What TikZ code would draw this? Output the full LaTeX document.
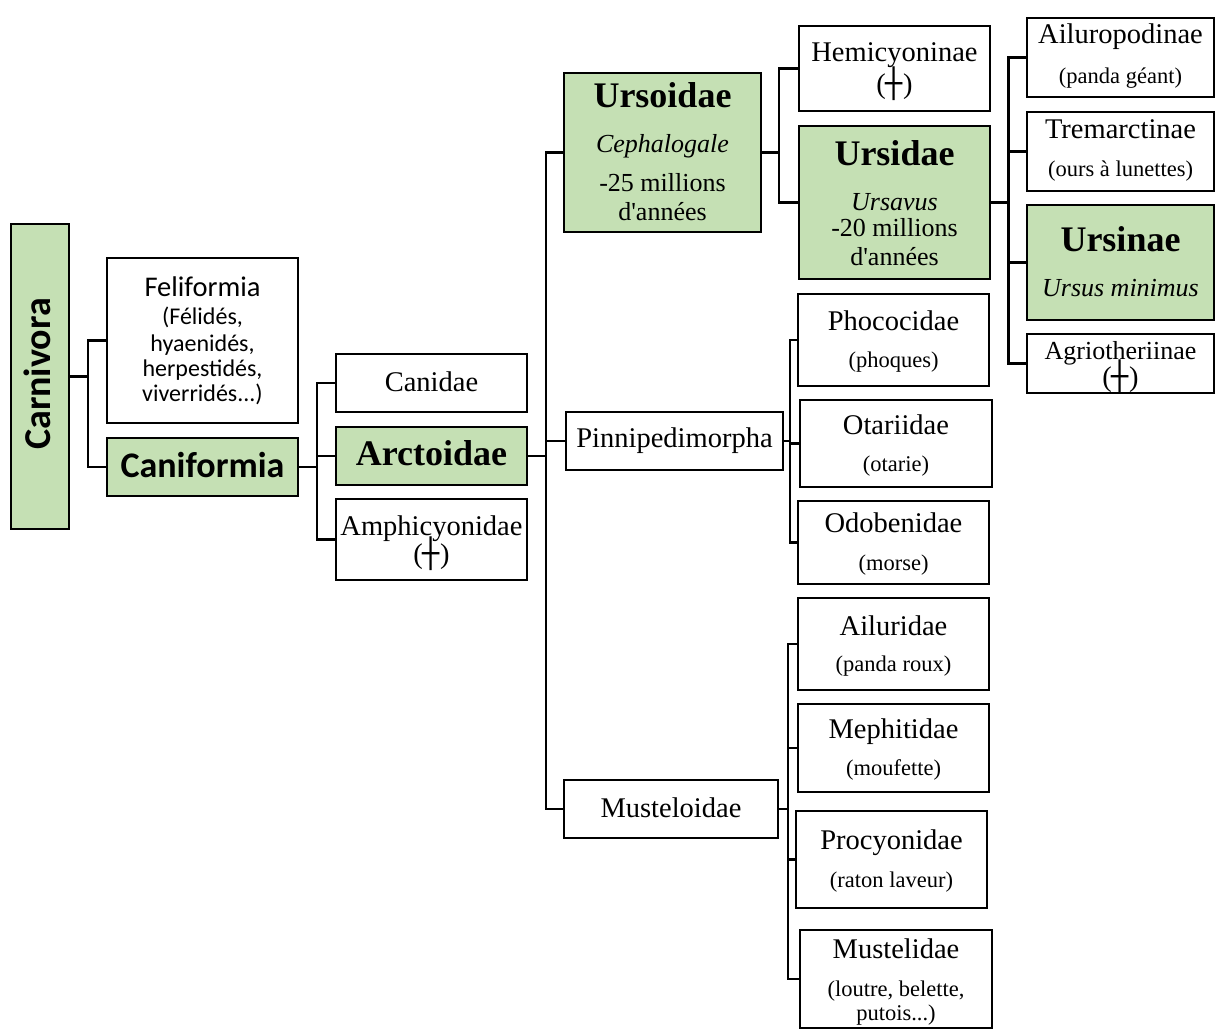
\documentclass[tikz,border=0pt]{standalone}
\usepackage{fontspec}
\setmainfont{Liberation Serif}
\newfontfamily\serraw{Liberation Serif}
\newfontfamily\carl{Carlito}
\newfontfamily\djv{DejaVu Sans}
\definecolor{grn}{HTML}{C5E0B4}
\newcommand\szname{\fontsize{28.5}{30}\selectfont}
\newcommand\szsub{\fontsize{22.5}{24}\selectfont}
\newcommand\szbig{\fontsize{36}{38}\selectfont\bfseries}
\newcommand\szit{\fontsize{26}{28}\selectfont}
\newcommand\extinct{(\hbox{\djv ┼})}
\begin{document}
\begin{tikzpicture}[x=1pt,y=-1pt,
  box/.style={draw=black, line width=2.8pt, inner sep=0pt, outer sep=0pt},
  gbox/.style={box, fill=grn},
  lnk/.style={draw=black, line width=2.5pt},
  t/.style={anchor=base, inner sep=0pt, outer sep=0pt}]
\useasboundingbox (0,0) rectangle (1216,1030);
% ---------- boxes ----------
\node[gbox, minimum width=58pt,  minimum height=305pt] (carn)  at (40,376.5) {};
\node[box,  minimum width=191pt, minimum height=165pt] (feli)  at (202.5,340.5) {};
\node[gbox, minimum width=191pt, minimum height=58pt]  (cani)  at (202.5,467) {};
\node[box,  minimum width=191pt, minimum height=58pt]  (canid) at (431.5,383) {};
\node[gbox, minimum width=191pt, minimum height=58pt]  (arct)  at (431.5,456) {};
\node[box,  minimum width=191pt, minimum height=81pt]  (amph)  at (431.5,539.5) {};
\node[gbox, minimum width=197pt, minimum height=159pt] (urso)  at (662.5,152.5) {};
\node[box,  minimum width=217pt, minimum height=58pt]  (pinn)  at (674.5,441) {};
\node[box,  minimum width=214pt, minimum height=58pt]  (must)  at (671,809) {};
\node[box,  minimum width=191pt, minimum height=85pt]  (hemi)  at (894.5,68.5) {};
\node[gbox, minimum width=191pt, minimum height=153pt] (ursid) at (894.5,202.5) {};
\node[box,  minimum width=191pt, minimum height=92pt]  (phoc)  at (893.5,340) {};
\node[box,  minimum width=192pt, minimum height=87pt]  (otar)  at (896,443.5) {};
\node[box,  minimum width=191pt, minimum height=83pt]  (odob)  at (893.5,542.5) {};
\node[box,  minimum width=191pt, minimum height=92pt]  (ailu)  at (893.5,644) {};
\node[box,  minimum width=191pt, minimum height=88pt]  (meph)  at (893.5,748) {};
\node[box,  minimum width=191pt, minimum height=97pt]  (proc)  at (891.5,859.5) {};
\node[box,  minimum width=192pt, minimum height=98pt]  (muste) at (896,979) {};
\node[box,  minimum width=187pt, minimum height=79pt]  (ailp)  at (1120.5,57.5) {};
\node[box,  minimum width=187pt, minimum height=79pt]  (trem)  at (1120.5,151.5) {};
\node[gbox, minimum width=187pt, minimum height=115pt] (ursin) at (1120.5,262.5) {};
\node[box,  minimum width=187pt, minimum height=59pt]  (agrio) at (1120.5,363.5) {};
% ---------- texts ----------
\node[t, rotate=90] (carn-t) at (50,374) {\carl\fontsize{38}{40}\selectfont\bfseries Carnivora};
\node[t] (feli-t1) at (202.5,296) {\carl\fontsize{28.5}{30}\selectfont Feliformia};
\node[t] (feli-t2) at (202.5,324) {\carl\fontsize{24}{26}\selectfont (Félidés,};
\node[t] (feli-t3) at (202.5,351.7) {\carl\fontsize{24}{26}\selectfont hyaenidés,};
\node[t] (feli-t4) at (202.5,376.7) {\carl\fontsize{24}{26}\selectfont herpestidés,};
\node[t] (feli-t5) at (202.5,401.7) {\carl\fontsize{24}{26}\selectfont viverridés...)};
\node[t] (cani-t) at (202.5,477) {\carl\fontsize{36}{38}\selectfont\bfseries Caniformia};
\node[t] (canid-t) at (431.5,391.7) {\szname Canidae};
\node[t] (arct-t) at (431.5,465.5) {\szbig Arctoidae};
\node[t] (amph-t1) at (431.5,535) {\szname Amphicyonidae};
\node[t] (amph-t2) at (431.5,563.3) {\szname\extinct};
\node[t] (urso-t1) at (662.5,107.7) {\szbig Ursoidae};
\node[t] (urso-t2) at (662.5,153) {\szit\itshape Cephalogale};
\node[t] (urso-t3) at (662.5,191.7) {\szit -25 millions};
\node[t] (urso-t4) at (662.5,220) {\serraw\szit d'années};
\node[t] (pinn-t) at (674.5,447.3) {\szname Pinnipedimorpha};
\node[t] (must-t) at (671,817.7) {\szname Musteloidae};
\node[t] (hemi-t1) at (894.5,61.7) {\szname Hemicyoninae};
\node[t] (hemi-t2) at (894.5,94) {\szname\extinct};
\node[t] (ursid-t1) at (894.5,165) {\szbig Ursidae};
\node[t] (ursid-t2) at (894.5,210) {\szit\itshape Ursavus};
\node[t] (ursid-t3) at (894.5,236.7) {\szit -20 millions};
\node[t] (ursid-t4) at (894.5,265) {\serraw\szit d'années};
\node[t] (phoc-t1) at (893.5,330) {\szname Phococidae};
\node[t] (phoc-t2) at (893.5,367.3) {\szsub (phoques)};
\node[t] (otar-t1) at (896,434) {\szname Otariidae};
\node[t] (otar-t2) at (896,471.7) {\szsub (otarie)};
\node[t] (odob-t1) at (893.5,532.7) {\szname Odobenidae};
\node[t] (odob-t2) at (893.5,570) {\szsub (morse)};
\node[t] (ailu-t1) at (893.5,635) {\szname Ailuridae};
\node[t] (ailu-t2) at (893.5,671.7) {\szsub (panda roux)};
\node[t] (meph-t1) at (893.5,738.3) {\szname Mephitidae};
\node[t] (meph-t2) at (893.5,775) {\szsub (moufette)};
\node[t] (proc-t1) at (891.5,849.3) {\szname Procyonidae};
\node[t] (proc-t2) at (891.5,887.3) {\szsub (raton laveur)};
\node[t] (muste-t1) at (896,958.3) {\szname Mustelidae};
\node[t] (muste-t2) at (896,996.7) {\szsub (loutre, belette,};
\node[t] (muste-t3) at (896,1020) {\szsub putois...)};
\node[t] (ailp-t1) at (1120.5,43.5) {\szname Ailuropodinae};
\node[t] (ailp-t2) at (1120.5,83.5) {\szsub (panda géant)};
\node[t] (trem-t1) at (1120.5,138.5) {\szname Tremarctinae};
\node[t] (trem-t2) at (1120.5,177) {\szsub (ours à lunettes)};
\node[t] (ursin-t1) at (1120.5,251.7) {\szbig Ursinae};
\node[t] (ursin-t2) at (1120.5,296) {\szit\itshape Ursus minimus};
\node[t] (agrio-t1) at (1120.5,359.3) {\fontsize{26}{28}\selectfont Agriotheriinae};
\node[t] (agrio-t2) at (1120.5,386.7) {\szname\extinct};
% ---------- connectors ----------
\coordinate (j1) at (88,376.5);
\coordinate (j2) at (317,467);
\coordinate (j3) at (546,456);
\coordinate (j4) at (779,152.5);
\coordinate (j5) at (1008.5,202.5);
\coordinate (j6) at (790,441);
\coordinate (j7) at (788,809);
\draw[lnk] (carn.east) -- (j1);
\draw[lnk] (feli.west) -| (j1) |- (cani.west);
\draw[lnk] (cani.east) -- (j2);
\draw[lnk] (canid.west) -| (j2) |- (amph.west);
\draw[lnk] (arct.west -| j2) -- (arct.west);
\draw[lnk] (arct.east) -- (j3);
\draw[lnk] (urso.west) -| (j3) |- (must.west);
\draw[lnk] (pinn.west -| j3) -- (pinn.west);
\draw[lnk] (urso.east) -- (j4);
\draw[lnk] (hemi.west) -| (j4) |- (ursid.west);
\draw[lnk] (ursid.east) -- (j5);
\draw[lnk] (ailp.west) -| (j5) |- (agrio.west);
\draw[lnk] (trem.west -| j5) -- (trem.west);
\draw[lnk] (ursin.west -| j5) -- (ursin.west);
\draw[lnk] (pinn.east) -- (j6);
\draw[lnk] (phoc.west) -| (j6) |- (odob.west);
\draw[lnk] (otar.west -| j6) -- (otar.west);
\draw[lnk] (must.east) -- (j7);
\draw[lnk] (ailu.west) -| (j7) |- (muste.west);
\draw[lnk] (meph.west -| j7) -- (meph.west);
\draw[lnk] (proc.west -| j7) -- (proc.west);
\end{tikzpicture}
\end{document}
